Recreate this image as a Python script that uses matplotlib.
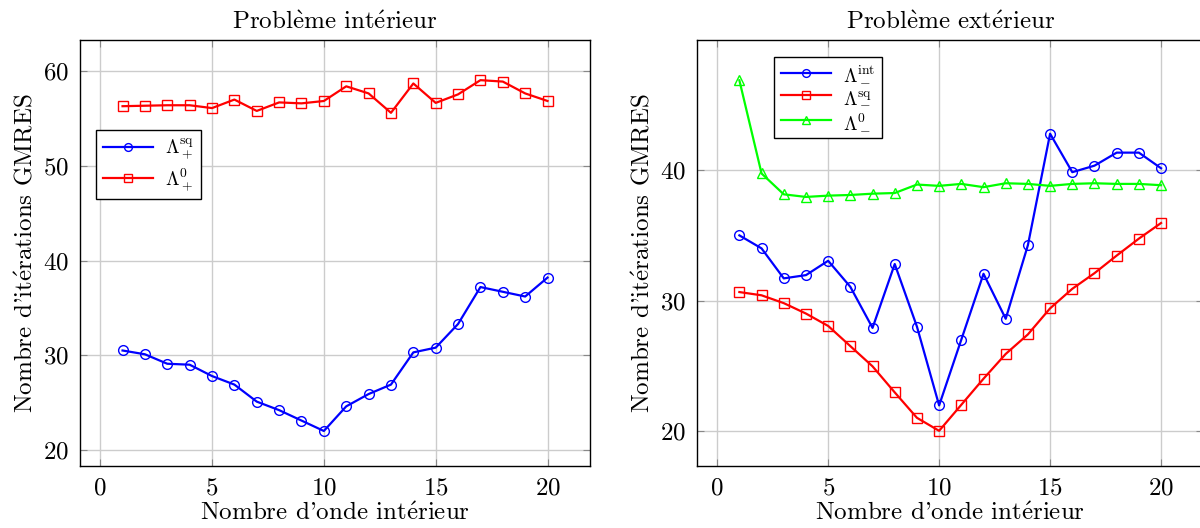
import matplotlib
matplotlib.use("Agg")
import matplotlib.pyplot as plt

plt.rcParams["font.family"] = ["cmr10", "DejaVu Serif"]
plt.rcParams["mathtext.fontset"] = "cm"
plt.rcParams["axes.formatter.use_mathtext"] = True
plt.rcParams["font.size"] = 18

# accented letters via mathtext, cmr10 has no è / é
E_GRAVE = r"$\grave{\mathrm{e}}$"
E_ACUTE = r"$\acute{\mathrm{e}}$"

# wave numbers
k = list(range(1, 21))

# interior problem
int_sq = [30.5, 30.1, 29.1, 29.0, 27.8, 26.9, 25.1, 24.2, 23.1, 22.0,
          24.6, 25.9, 26.9, 30.3, 30.8, 33.3, 37.2, 36.7, 36.2, 38.2]
int_0 = [56.3, 56.35, 56.4, 56.4, 56.1, 57.0, 55.8, 56.7, 56.6, 56.85,
         58.4, 57.65, 55.6, 58.7, 56.65, 57.55, 59.05, 58.9, 57.65, 56.85]

# exterior problem
ext_int = [35.0, 34.0, 31.7, 31.95, 33.05, 31.05, 27.9, 32.8, 28.0, 21.95,
           27.0, 32.05, 28.6, 34.25, 42.8, 39.85, 40.35, 41.35, 41.35, 40.15]
ext_sq = [30.65, 30.4, 29.8, 29.0, 28.05, 26.5, 24.95, 22.95, 21.0, 20.0,
          22.0, 24.0, 25.9, 27.4, 29.4, 30.9, 32.1, 33.45, 34.75, 35.95]
ext_0 = [46.9, 39.75, 38.15, 37.95, 38.05, 38.1, 38.2, 38.25, 38.9, 38.8,
         38.95, 38.7, 39.0, 38.95, 38.8, 38.95, 39.0, 38.95, 38.95, 38.85]

# in cmr10 the plain quote is drawn as the curly apostrophe
xlabel = "Nombre d'onde int" + E_ACUTE + "rieur"
ylabel = "Nombre d'it" + E_ACUTE + "rations GMRES"

fig = plt.figure(figsize=(12, 5.28), dpi=100)
ax1 = fig.add_axes([0.0667, 0.1174, 0.425, 0.807])
ax2 = fig.add_axes([0.581, 0.1174, 0.4217, 0.807])

style = dict(lw=1.6, markersize=7, markerfacecolor="none", markeredgewidth=1.0)
leg = dict(loc="upper left", fancybox=False, edgecolor="black", framealpha=1,
           fontsize=14, handlelength=2.6, borderpad=0.35, labelspacing=0.25,
           handletextpad=0.6, markerscale=0.8, borderaxespad=0)

ax1.plot(k, int_sq, color="#0000ff", marker="o", label=r"$\Lambda_+^{\mathrm{sq}}$", **style)
ax1.plot(k, int_0, color="#ff0000", marker="s", label=r"$\Lambda_+^{0}$", **style)
ax1.set_xlim(-0.9, 21.9)
ax1.set_ylim(18.3, 63.3)
ax1.set_yticks([20, 30, 40, 50, 60])
ax1.set_title("Probl" + E_GRAVE + "me int" + E_ACUTE + "rieur", fontsize=18, pad=8)
ax1.legend(bbox_to_anchor=(0.031, 0.789), **leg)

ax2.plot(k, ext_int, color="#0000ff", marker="o", label=r"$\Lambda_-^{\mathrm{int}}$", **style)
ax2.plot(k, ext_sq, color="#ff0000", marker="s", label=r"$\Lambda_-^{\mathrm{sq}}$", **style)
ax2.plot(k, ext_0, color="#00ff00", marker="^", label=r"$\Lambda_-^{0}$", **style)
ax2.set_xlim(-0.9, 21.9)
ax2.set_ylim(17.3, 50.0)
ax2.set_yticks([20, 30, 40])
ax2.set_title("Probl" + E_GRAVE + "me ext" + E_ACUTE + "rieur", fontsize=18, pad=8)
ax2.legend(bbox_to_anchor=(0.152, 0.96), **leg)

for ax in (ax1, ax2):
    ax.set_xticks([0, 5, 10, 15, 20])
    ax.set_xlabel(xlabel, labelpad=2)
    ax.set_ylabel(ylabel, labelpad=4)
    ax.grid(True, color="#cccccc", lw=1.0)
    ax.set_axisbelow(True)
    ax.tick_params(direction="in", top=True, right=True, length=5, color="#888888",
                   labelsize=18, pad=8)
    for s in ax.spines.values():
        s.set_linewidth(1.0)

fig.savefig("out.png", dpi=100)
